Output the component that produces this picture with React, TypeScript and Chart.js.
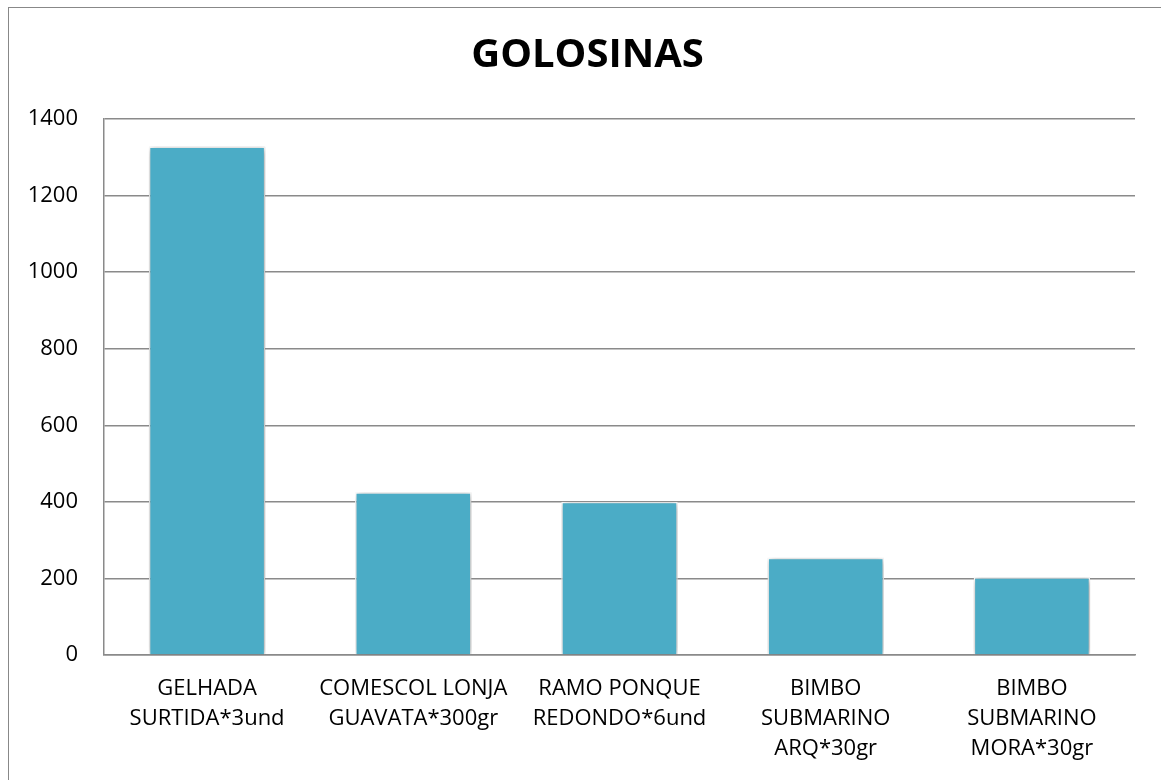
import React, { useEffect, useRef } from "react";
import { Chart, registerables } from "chart.js";

Chart.register(...registerables);

const categories: string[][] = [
  ["GELHADA", "SURTIDA*3und"],
  ["COMESCOL LONJA", "GUAVATA*300gr"],
  ["RAMO PONQUE", "REDONDO*6und"],
  ["BIMBO", "SUBMARINO", "ARQ*30gr"],
  ["BIMBO", "SUBMARINO", "MORA*30gr"],
];
const values: number[] = [1328, 425, 400, 254, 203];
const yTicks = { min: 0, max: 1400, step: 200 };
const title = "GOLOSINAS";

const FONT = "'Open Sans', 'DejaVu Sans', sans-serif";
const GRID = "#8a8a8a";

const shadowPlugin = {
  id: "barShadow",
  afterLayout(chart: any) {
    // centre the title on the whole chart box (left edge to right padding)
    const t = chart.titleBlock;
    if (t) {
      t.left = 31;
      t.right = chart.width - 26;
      t.width = t.right - t.left;
    }
  },
  beforeDatasetsDraw(chart: any) {
    const ctx = chart.ctx;
    ctx.save();
    ctx.shadowColor = "rgba(0,0,0,0.4)";
    ctx.shadowBlur = 7;
    ctx.shadowOffsetX = 1;
    ctx.shadowOffsetY = 1;
  },
  afterDatasetsDraw(chart: any) {
    chart.ctx.restore();
  },
};

export default function App() {
  const ref = useRef<HTMLCanvasElement | null>(null);

  useEffect(() => {
    if (!ref.current) return;
    const chart = new Chart(ref.current, {
      type: "bar",
      data: {
        labels: categories,
        datasets: [
          {
            data: values,
            backgroundColor: "#4BACC6",
            borderColor: "#ffffff",
            borderWidth: 1.5,
            borderSkipped: "bottom",
            barPercentage: 0.565,
            categoryPercentage: 1,
          },
        ],
      },
      plugins: [shadowPlugin],
      options: {
        animation: false,
        responsive: false,
        devicePixelRatio: 1,
        color: "#000",
        layout: { padding: { left: 0, right: 26, top: 0, bottom: 0 } },
        plugins: {
          legend: { display: false },
          tooltip: { enabled: false },
          title: {
            display: true,
            text: title,
            color: "#000",
            font: { family: FONT, size: 40, weight: "bold", lineHeight: 1.2 },
            padding: { top: 23.5, bottom: 39.5 },
          },
        },
        scales: {
          x: {
            z: 1,
            grid: { display: false, drawTicks: false },
            border: { display: true, color: GRID, width: 1.5 },
            ticks: {
              color: "#000",
              padding: 19,
              maxRotation: 0,
              autoSkip: false,
              font: { family: FONT, size: 22, lineHeight: 1.36 },
            },
            afterFit(scale: any) {
              scale.height = 125;
            },
          },
          y: {
            min: yTicks.min,
            max: yTicks.max,
            grid: { color: GRID, lineWidth: 1.5, drawTicks: false },
            border: { display: true, color: GRID, width: 1.5 },
            ticks: {
              stepSize: yTicks.step,
              color: "#000",
              padding: 26,
              font: { family: FONT, size: 22 },
              callback: (v: any) => String(v),
            },
            afterFit(scale: any) {
              scale.width = 95;
            },
          },
        },
      },
    });
    return () => chart.destroy();
  }, []);

  return (
    <div
      style={{
        position: "fixed",
        top: 7,
        left: 8,
        width: 1153,
        height: 773,
        overflow: "hidden",
        borderTop: "1px solid #888",
        borderLeft: "1px solid #888",
        background: "#fff",
      }}
    >
      <canvas ref={ref} width={1152} height={772} style={{ display: "block" }} />
    </div>
  );
}
